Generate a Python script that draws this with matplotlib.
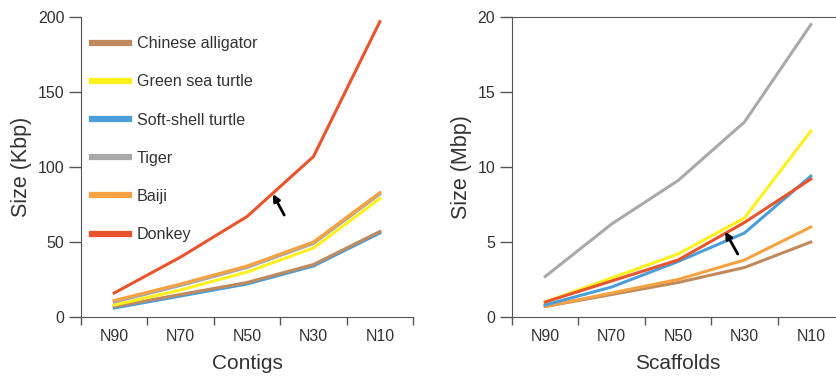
import matplotlib
matplotlib.use('Agg')
import matplotlib.pyplot as plt
from matplotlib.lines import Line2D

plt.rcParams['font.family'] = ['Liberation Sans', 'DejaVu Sans']

stats = ['N90', 'N70', 'N50', 'N30', 'N10']
species = ['Chinese alligator', 'Green sea turtle', 'Soft-shell turtle', 'Tiger', 'Baiji', 'Donkey']
colors = ['#C08A5C', '#FFF01E', '#4C9ED9', '#A9A9A9', '#F5A242', '#E8552D']

# contig N-stats, Kbp
contig_alligator = [7, 15, 23, 35, 57]
contig_seaturtle = [8, 18, 30, 46, 79]
contig_softshell = [6, 14, 22, 34, 56]
contig_tiger = [10, 21, 33, 49, 82]
contig_baiji = [11, 22, 34, 50, 83]
contig_donkey = [16, 40, 67, 107, 197]

# scaffold N-stats, Mbp
scaf_alligator = [0.7, 1.5, 2.3, 3.3, 5.0]
scaf_seaturtle = [1.0, 2.6, 4.2, 6.6, 12.4]
scaf_softshell = [0.8, 2.0, 3.7, 5.6, 9.4]
scaf_tiger = [2.7, 6.2, 9.1, 13.0, 19.5]
scaf_baiji = [0.7, 1.6, 2.5, 3.8, 6.0]
scaf_donkey = [1.0, 2.4, 3.8, 6.3, 9.2]

contigs = [contig_alligator, contig_seaturtle, contig_softshell, contig_tiger, contig_baiji, contig_donkey]
scaffolds = [scaf_alligator, scaf_seaturtle, scaf_softshell, scaf_tiger, scaf_baiji, scaf_donkey]
# drawing order (back to front)
order_left = [2, 0, 1, 3, 4, 5]
order_right = [3, 0, 4, 1, 2, 5]

txt = '#333333'
fig = plt.figure(figsize=(8.37, 3.81), dpi=100)
ax1 = fig.add_axes([0.0968, 0.168, 0.3967, 0.787])
ax2 = fig.add_axes([0.6117, 0.168, 0.3967, 0.787])

def style(ax, ymax, step, ylabel, xlabel):
	x = range(len(stats))
	ax.set_xlim(-0.5, len(stats) - 0.5)
	ax.set_ylim(0, ymax)
	ax.set_xticks([i - 0.5 for i in range(len(stats) + 1)])
	ax.set_xticklabels([])
	ax.set_xticks(list(x), minor=True)
	ax.set_xticklabels(stats, minor=True)
	ax.tick_params(axis='x', which='major', direction='out', length=6, width=1, color='#555555')
	ax.tick_params(axis='x', which='minor', length=0, pad=9, labelsize=11.5, labelcolor=txt)
	ax.set_yticks(range(0, ymax + 1, step))
	ax.tick_params(axis='y', direction='out', length=9, width=1, color='#555555', labelsize=11.5, labelcolor=txt, pad=3)
	for s in ['left', 'bottom', 'top', 'right']:
		ax.spines[s].set_color('#555555')
	ax.spines['bottom'].set_bounds(-0.5, len(stats) - 0.5)
	ax.set_ylabel(ylabel, fontsize=15.5, color=txt, labelpad=4)
	ax.set_xlabel(xlabel, fontsize=15, color=txt, labelpad=7)

for i in order_left:
	ax1.plot(range(len(stats)), contigs[i], color=colors[i], lw=2.2)
for i in order_right:
	ax2.plot(range(len(stats)), scaffolds[i], color=colors[i], lw=2.2)

style(ax1, 200, 50, 'Size (Kbp)', 'Contigs')
ax1.spines['top'].set_visible(False)
ax1.spines['right'].set_visible(False)
style(ax2, 20, 5, 'Size (Mbp)', 'Scaffolds')

handles = [Line2D([0], [0], color=colors[i], lw=4.5) for i in range(len(species))]
leg = ax1.legend(handles, species, loc='upper left', bbox_to_anchor=(-0.01, 0.985), frameon=False,
	fontsize=11.6, labelspacing=1.44, handlelength=2.3, handletextpad=0.45, borderaxespad=0.5)
for t in leg.get_texts():
	t.set_color(txt)

ax1.annotate('', xy=(2.39, 82), xytext=(2.56, 68),
	arrowprops=dict(arrowstyle='-|>', color='black', lw=2, mutation_scale=10, shrinkA=0, shrinkB=0))
ax2.annotate('', xy=(2.71, 5.7), xytext=(2.9, 4.2),
	arrowprops=dict(arrowstyle='-|>', color='black', lw=2, mutation_scale=10, shrinkA=0, shrinkB=0))

fig.savefig('out.png', dpi=100)
